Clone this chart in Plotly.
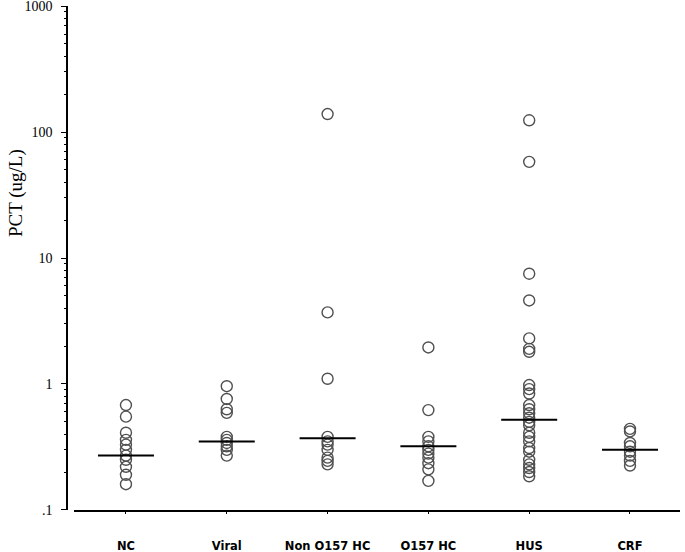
import plotly.graph_objects as go

categories = ["NC", "Viral", "Non O157 HC", "O157 HC", "HUS", "CRF"]
nc = [0.68, 0.55, 0.41, 0.36, 0.33, 0.30, 0.27, 0.25, 0.22, 0.19, 0.16]
viral = [0.96, 0.76, 0.63, 0.59, 0.38, 0.36, 0.34, 0.32, 0.30, 0.27]
non_o157 = [139, 3.7, 1.1, 0.38, 0.35, 0.33, 0.30, 0.26, 0.245, 0.23]
o157 = [1.95, 0.62, 0.38, 0.35, 0.32, 0.30, 0.28, 0.26, 0.235, 0.21, 0.17]
hus = [124, 58, 7.5, 4.6, 2.3, 1.9, 1.8, 0.98, 0.91, 0.84, 0.68, 0.63, 0.585,
       0.54, 0.50, 0.47, 0.41, 0.38, 0.35, 0.31, 0.29, 0.25, 0.23, 0.215, 0.20, 0.185]
crf = [0.44, 0.42, 0.34, 0.32, 0.29, 0.27, 0.245, 0.225]
medians = [0.27, 0.35, 0.37, 0.32, 0.52, 0.30]
y_tickvals = [0.1, 1, 10, 100, 1000]
y_ticktext = [".1", "1", "10", "100", "1000"]

groups = [nc, viral, non_o157, o157, hus, crf]

fig = go.Figure()
for i, vals in enumerate(groups):
    fig.add_trace(go.Scatter(
        x=[i] * len(vals), y=vals, mode="markers",
        marker=dict(symbol="circle-open", size=11, color="#505050",
                    line=dict(width=1.4, color="#505050")),
        showlegend=False, hoverinfo="y"))

fig.add_trace(go.Scatter(
    x=list(range(len(categories))), y=medians, mode="markers",
    marker=dict(symbol="line-ew-open", size=40, color="black",
                line=dict(width=2, color="black")),
    showlegend=False, hoverinfo="y"))

L, R, T, B = 67, 5, 6, 42
W, H = 685, 552

fig.update_layout(
    width=W, height=H,
    margin=dict(l=L, r=R, t=T, b=B, autoexpand=False),
    paper_bgcolor="white", plot_bgcolor="white",
    xaxis=dict(
        domain=[0.012, 1],
        range=[-0.512, 5.496],
        tickvals=list(range(len(categories))),
        ticktext=categories,
        showline=True, linecolor="black", linewidth=1.5,
        ticks="outside", ticklen=2, tickcolor="black",
        showgrid=False, zeroline=False, automargin=False,
        ticklabelstandoff=22, ticklabeloverflow="allow",
        tickfont=dict(family="DejaVu Sans", size=11.5, color="black", weight="bold"),
    ),
    yaxis=dict(
        type="log", range=[-1.0005, 3.0005],
        anchor="free", position=0, automargin=False,
        tickvals=y_tickvals, ticktext=y_ticktext,
        showline=True, linecolor="black", linewidth=1.5,
        ticks="outside", ticklen=5, tickcolor="black",
        minor=dict(ticks="outside", ticklen=2, tickcolor="black", dtick="D1", showgrid=False),
        showgrid=False, zeroline=False,
        ticklabelstandoff=6, ticklabeloverflow="allow",
        tickfont=dict(family="Liberation Serif", size=14, color="black"),
    ),
    annotations=[dict(
        text="PCT (ug/L)",
        x=(16 - L) / (W - L - R), y=(H - B - 193) / (H - T - B),
        xref="paper", yref="paper", xanchor="center", yanchor="middle",
        showarrow=False, textangle=-90,
        font=dict(family="Liberation Serif", size=19, color="black"))],
)

fig.write_html("out.html", config={"displayModeBar": False},
               post_script="document.body.style.margin='0';document.body.style.overflow='hidden';")
